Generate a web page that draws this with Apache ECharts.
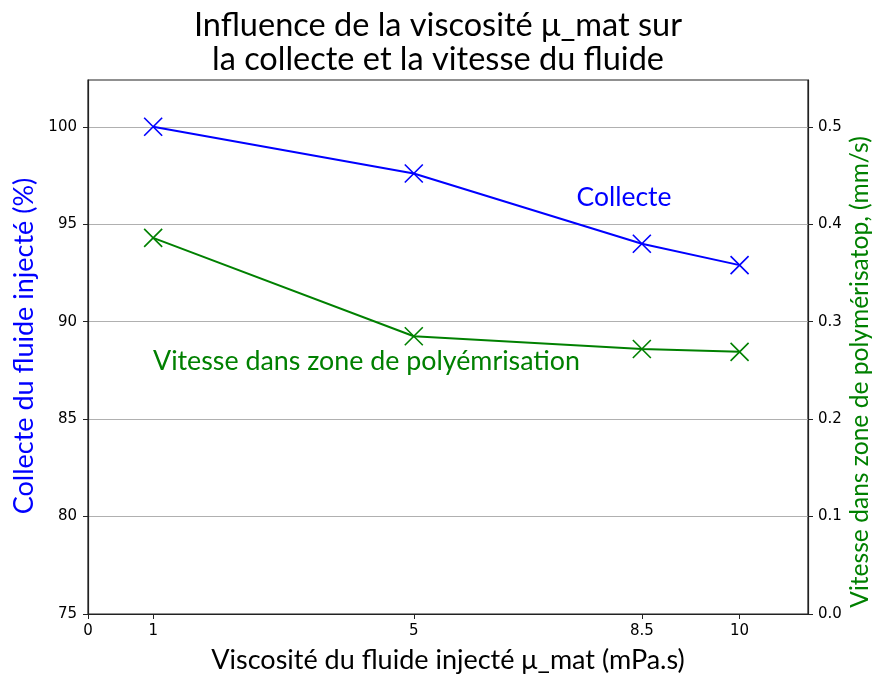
<!DOCTYPE html>
<html>
<head>
<meta charset="utf-8">
<script src="https://cdn.jsdelivr.net/npm/echarts@6/dist/echarts.min.js"></script>
<style>
  html, body { margin: 0; padding: 0; background: #fff; }
  #chart { width: 876px; height: 675px; }
</style>
</head>
<body>
<div id="chart"></div>
<script>
// Viscosité du fluide injecté (mPa.s)
const viscosite = [1, 5, 8.5, 10];
// Collecte du fluide injecté (%)
const collecte = [100, 97.6, 94.0, 92.9];
// Vitesse dans la zone de polymérisation (mm/s)
const vitesse = [0.386, 0.285, 0.272, 0.269];

const xTicks = [0, 1, 5, 8.5, 10];
const leftTicks = [75, 80, 85, 90, 95, 100];
const rightTicks = [0, 0.1, 0.2, 0.3, 0.4, 0.5];

const titleFont = 'Lato, "Open Sans", sans-serif';
const tickFont = '"DejaVu Sans", sans-serif';

// X-shaped marker
const crossPath = 'path://M0,0 L10,10 M10,0 L0,10';

const chart = echarts.init(document.getElementById('chart'));
chart.setOption({
  animation: false,
  title: {
    text: 'Influence de la viscosité μ_mat sur\nla collecte et la vitesse du fluide',
    left: 'center',
    top: 4,
    textStyle: { fontFamily: titleFont, fontSize: 32.5, fontWeight: 'normal', color: '#000', lineHeight: 34 }
  },
  grid: {
    left: 88, right: 68, top: 80, bottom: 61,
    show: true, borderColor: '#222', borderWidth: 1.2, backgroundColor: 'transparent'
  },
  xAxis: {
    type: 'value', min: 0, max: 11.05,
    axisLine: { onZero: false, lineStyle: { color: '#222', width: 1.2 } },
    axisTick: { show: true, length: 5, customValues: xTicks, lineStyle: { color: '#222' } },
    axisLabel: { customValues: xTicks, fontFamily: tickFont, fontSize: 15, color: '#000', margin: 10 },
    splitLine: { show: false }
  },
  yAxis: [
    {
      type: 'value', min: 75, max: 102.4, position: 'left',
      axisLine: { show: true, lineStyle: { color: '#222', width: 1.2 } },
      axisTick: { show: true, length: 5, customValues: leftTicks, lineStyle: { color: '#222' } },
      axisLabel: { customValues: leftTicks, fontFamily: tickFont, fontSize: 15, color: '#000', margin: 11 },
      splitLine: { show: true, lineStyle: { color: '#b0b0b0', width: 1 } }
    },
    {
      type: 'value', min: 0, max: 0.548, position: 'right',
      axisLine: { show: true, lineStyle: { color: '#222', width: 1.2 } },
      axisTick: { show: true, length: 5, customValues: rightTicks, lineStyle: { color: '#222' } },
      axisLabel: { customValues: rightTicks, fontFamily: tickFont, fontSize: 15, color: '#000', margin: 10,
        formatter: v => v.toFixed(1) },
      splitLine: { show: false }
    }
  ],
  graphic: [
    {
      type: 'text', x: 448, y: 660,
      style: { text: 'Viscosité du fluide injecté μ_mat (mPa.s)', fontFamily: titleFont, fontSize: 27,
        fill: '#000', align: 'center', verticalAlign: 'middle' }
    },
    {
      type: 'text', x: 24, y: 346, rotation: Math.PI / 2,
      style: { text: 'Collecte du fluide injecté (%)', fontFamily: titleFont, fontSize: 27,
        fill: '#0000ff', align: 'center', verticalAlign: 'middle' }
    },
    {
      type: 'text', x: 860, y: 372, rotation: Math.PI / 2,
      style: { text: 'Vitesse dans zone de polymérisatop, (mm/s)', fontFamily: titleFont, fontSize: 24.6,
        fill: '#008000', align: 'center', verticalAlign: 'middle' }
    },
    {
      type: 'text', x: 624, y: 197,
      style: { text: 'Collecte', fontFamily: titleFont, fontSize: 26.5,
        fill: '#0000ff', align: 'center', verticalAlign: 'middle' }
    },
    {
      type: 'text', x: 153, y: 361,
      style: { text: 'Vitesse dans zone de polyémrisation', fontFamily: titleFont, fontSize: 26.8,
        fill: '#008000', align: 'left', verticalAlign: 'middle' }
    }
  ],
  series: [
    {
      name: 'Collecte', type: 'line', yAxisIndex: 0,
      data: viscosite.map((x, i) => [x, collecte[i]]),
      lineStyle: { color: '#0000ff', width: 2 },
      symbol: crossPath, symbolSize: 18, showAllSymbol: true,
      itemStyle: { color: 'none', borderColor: '#0000ff', borderWidth: 1.6 }
    },
    {
      name: 'Vitesse', type: 'line', yAxisIndex: 1,
      data: viscosite.map((x, i) => [x, vitesse[i]]),
      lineStyle: { color: '#008000', width: 2 },
      symbol: crossPath, symbolSize: 18, showAllSymbol: true,
      itemStyle: { color: 'none', borderColor: '#008000', borderWidth: 1.6 }
    }
  ]
});
</script>
</body>
</html>
